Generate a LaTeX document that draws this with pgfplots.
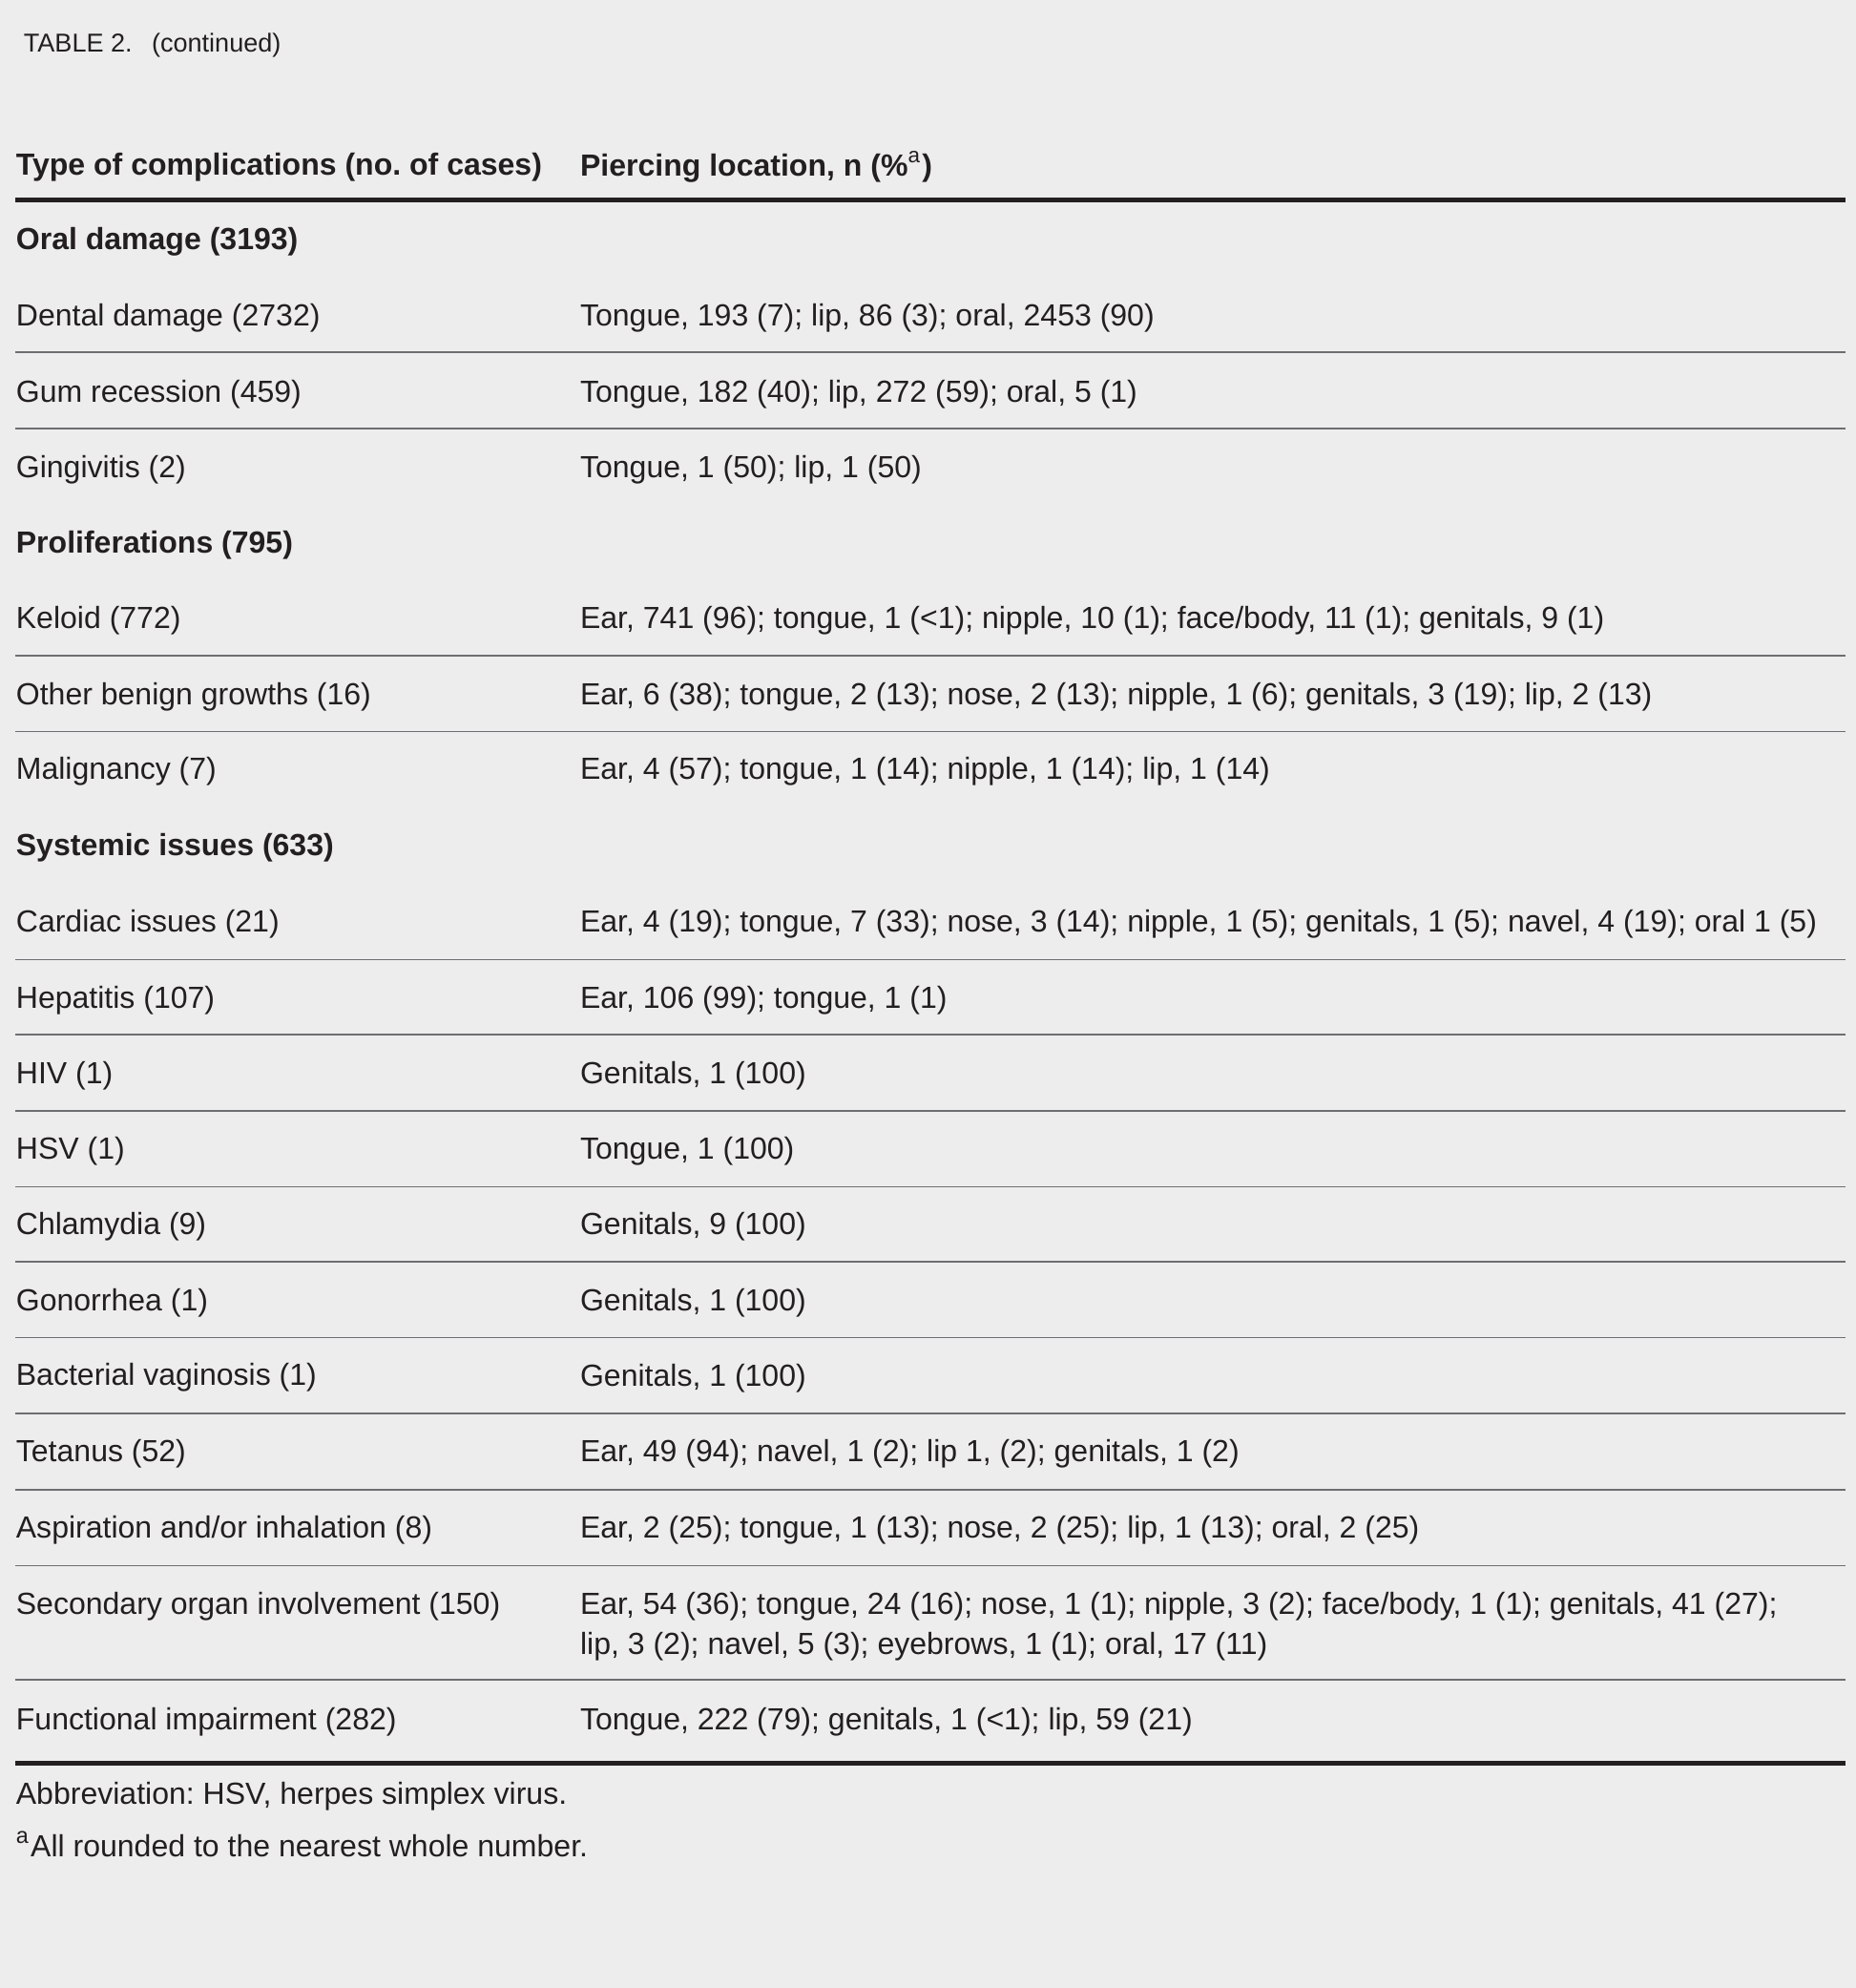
\documentclass[border=0pt]{standalone}
\usepackage{pgfplots}
\pgfplotsset{compat=1.18}
\usepackage{fontspec}
\setmainfont{Liberation Sans}
\frenchspacing
\definecolor{bg}{HTML}{EDEDED}
\definecolor{ink}{HTML}{231F20}
\definecolor{rulegray}{HTML}{6D6E71}
\newcommand{\cell}[3]{\node[anchor=west, yshift=-0.5pt] at (axis cs:#1,#2) {#3};}
\begin{document}
\begin{tikzpicture}[every node/.append style={font=\fontsize{6.86}{8}\selectfont, text=ink, inner sep=0pt}]
\begin{axis}[
    hide axis, scale only axis,
    width=14.64cm, height=15.68cm,
    xmin=0, xmax=1464, ymin=0, ymax=1568,
    y dir=reverse, clip=false,
]
% background
\addplot[fill=bg, draw=none] coordinates {(0,0)(1464,0)(1464,1568)(0,1568)(0,0)};
% rules
\addplot[ink, line width=1.1pt] coordinates {(12,158)(1456,158)};
\addplot[ink, line width=1.1pt] coordinates {(12,1391)(1456,1391)};
\pgfplotsinvokeforeach{278,338,517,577,757,816,876,936,995,1055,1115,1175,1235,1325}{
  \addplot[rulegray, line width=0.35pt] coordinates {(12,#1)(1456,#1)};
}
% title and header
\node[anchor=west, font=\fontsize{5.8}{7}\selectfont] at (axis cs:18,36) {TABLE 2.\hspace{0.75em}(continued)};
\cell{12}{130}{\bfseries Type of complications (no. of cases)}
\cell{457}{130}{\bfseries Piercing location, n (\%\textsuperscript{\mdseries a})}
% body
\cell{12}{189}{\bfseries Oral damage (3193)}
\cell{12}{249}{Dental damage (2732)}
\cell{457}{249}{Tongue, 193 (7); lip, 86 (3); oral, 2453 (90)}
\cell{12}{309}{Gum recession (459)}
\cell{457}{309}{Tongue, 182 (40); lip, 272 (59); oral, 5 (1)}
\cell{12}{369}{Gingivitis (2)}
\cell{457}{369}{Tongue, 1 (50); lip, 1 (50)}
\cell{12}{428}{\bfseries Proliferations (795)}
\cell{12}{488}{Keloid (772)}
\cell{457}{488}{Ear, 741 (96); tongue, 1 (<1); nipple, 10 (1); face/body, 11 (1); genitals, 9 (1)}
\cell{12}{548}{Other benign growths (16)}
\cell{457}{548}{Ear, 6 (38); tongue, 2 (13); nose, 2 (13); nipple, 1 (6); genitals, 3 (19); lip, 2 (13)}
\cell{12}{607}{Malignancy (7)}
\cell{457}{607}{Ear, 4 (57); tongue, 1 (14); nipple, 1 (14); lip, 1 (14)}
\cell{12}{667}{\bfseries Systemic issues (633)}
\cell{12}{727}{Cardiac issues (21)}
\cell{457}{727}{Ear, 4 (19); tongue, 7 (33); nose, 3 (14); nipple, 1 (5); genitals, 1 (5); navel, 4 (19); oral 1 (5)}
\cell{12}{787}{Hepatitis (107)}
\cell{457}{787}{Ear, 106 (99); tongue, 1 (1)}
\cell{12}{847}{HIV (1)}
\cell{457}{847}{Genitals, 1 (100)}
\cell{12}{906}{HSV (1)}
\cell{457}{906}{Tongue, 1 (100)}
\cell{12}{966}{Chlamydia (9)}
\cell{457}{966}{Genitals, 9 (100)}
\cell{12}{1026}{Gonorrhea (1)}
\cell{457}{1026}{Genitals, 1 (100)}
\cell{12}{1085}{Bacterial vaginosis (1)}
\cell{457}{1085}{Genitals, 1 (100)}
\cell{12}{1145}{Tetanus (52)}
\cell{457}{1145}{Ear, 49 (94); navel, 1 (2); lip 1, (2); genitals, 1 (2)}
\cell{12}{1205}{Aspiration and/or inhalation (8)}
\cell{457}{1205}{Ear, 2 (25); tongue, 1 (13); nose, 2 (25); lip, 1 (13); oral, 2 (25)}
\cell{12}{1265}{Secondary organ involvement (150)}
\cell{457}{1265}{Ear, 54 (36); tongue, 24 (16); nose, 1 (1); nipple, 3 (2); face/body, 1 (1); genitals, 41 (27);}
\cell{457}{1297}{lip, 3 (2); navel, 5 (3); eyebrows, 1 (1); oral, 17 (11)}
\cell{12}{1356}{Functional impairment (282)}
\cell{457}{1356}{Tongue, 222 (79); genitals, 1 (<1); lip, 59 (21)}
% notes
\cell{12}{1415}{Abbreviation: HSV, herpes simplex virus.}
\cell{12}{1453}{\textsuperscript{\fontsize{5}{6}\selectfont a}All rounded to the nearest whole number.}
\end{axis}
\end{tikzpicture}
\end{document}
